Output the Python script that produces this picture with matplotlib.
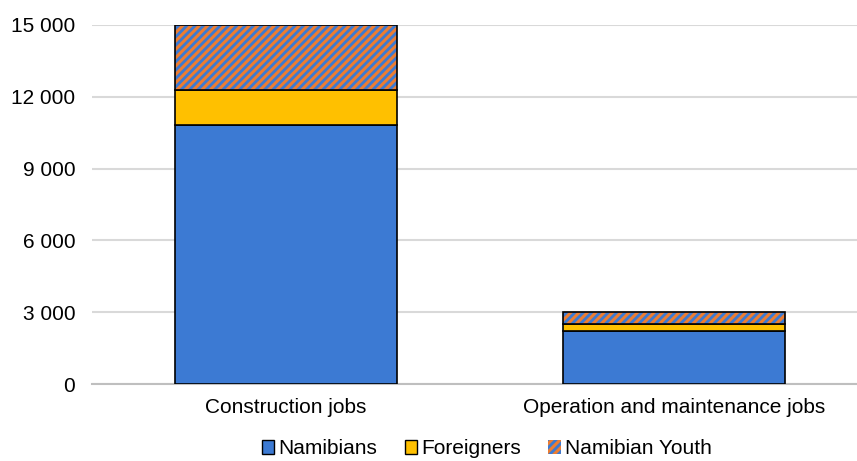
import numpy as np
import matplotlib.pyplot as plt
import matplotlib.ticker as tick
from matplotlib.patches import Patch

plt.rcParams['font.family'] = ['Liberation Sans', 'DejaVu Sans']
plt.rcParams['hatch.linewidth'] = 2.2

categories = ["Construction jobs", "Operation and maintenance jobs"]
namibians = [10800, 2200]
foreigners = [1500, 300]
youth = [2700, 500]

blue = "#3C7AD3"
yellow = "#FFC000"
orange = "#ED7D31"

fig = plt.figure(figsize=(8.57, 4.61), dpi=100)
ax = fig.add_axes([0.1073, 0.167, 0.9055, 0.779])

x = np.arange(len(categories))
w = 0.57
bottom2 = np.array(namibians) + np.array(foreigners)

ax.bar(x, namibians, w, color=blue, edgecolor="black", linewidth=1.2, zorder=3)
ax.bar(x, foreigners, w, bottom=namibians, color=yellow, edgecolor="black", linewidth=1.2, zorder=3)
# hatch layer first, then a black outline on top
ax.bar(x, youth, w, bottom=bottom2, color=blue, edgecolor=orange, hatch="////", linewidth=0, zorder=3)
ax.bar(x, youth, w, bottom=bottom2, fill=False, edgecolor="black", linewidth=1.2, zorder=4)

ax.set_xlim(-0.5, 1.5)
ax.set_ylim(0, 15000)
ax.yaxis.set_major_locator(tick.MultipleLocator(3000))
ax.yaxis.set_major_formatter(tick.FuncFormatter(lambda v, p: f"{int(v):,}".replace(",", " ")))
ax.set_xticks(x)
ax.set_xticklabels(categories)
ax.tick_params(axis='both', length=0, labelsize=15, colors="#000000")
ax.tick_params(axis='x', pad=10)
ax.tick_params(axis='y', pad=12)

ax.grid(axis='y', color="#D9D9D9", linewidth=1.5, zorder=0)
for s in ["top", "right", "left"]:
    ax.spines[s].set_visible(False)
ax.spines["bottom"].set_color("#BFBFBF")
ax.spines["bottom"].set_linewidth(1.5)

handles = [
    Patch(facecolor=blue, edgecolor="black", linewidth=1),
    Patch(facecolor=yellow, edgecolor="black", linewidth=1),
    Patch(facecolor=blue, edgecolor=orange, hatch="////", linewidth=0),
]
leg = fig.legend(handles, ["Namibians", "Foreigners", "Namibian Youth"], loc="lower center",
                 bbox_to_anchor=(0.568, -0.035), ncol=3, frameon=False, fontsize=15,
                 handlelength=0.6, handleheight=0.6, handletextpad=0.2, columnspacing=1.3)

fig.savefig("out.png", dpi=100)
